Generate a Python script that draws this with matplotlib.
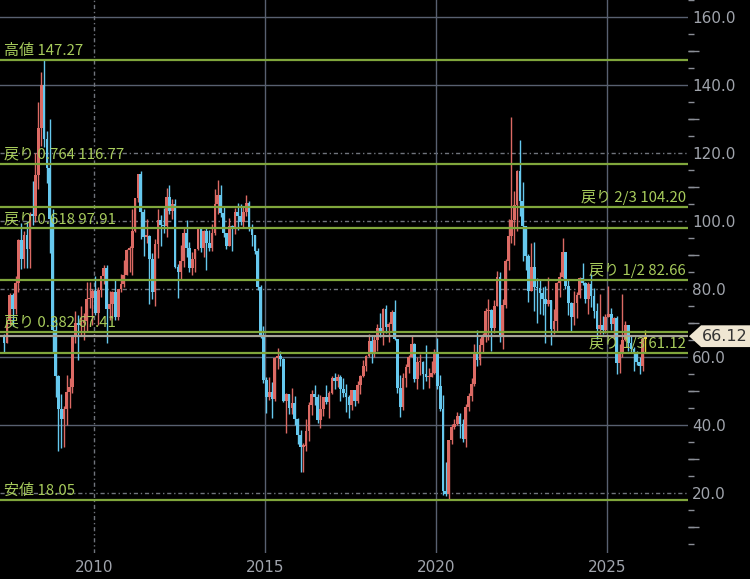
import numpy as np
import pandas as pd
import matplotlib
matplotlib.use('Agg')
import matplotlib.pyplot as plt
import matplotlib.dates as mdates
import matplotlib.ticker as mticker
from matplotlib.patches import Polygon
from matplotlib.transforms import blended_transform_factory

# monthly OHLC, 2007-05 .. 2026-02 (one row per year)
opens = [
    65.8, 64.0, 70.7, 78.2, 74.0, 81.7, 94.5, 88.7,
    96.0, 91.8, 101.8, 101.6, 113.5, 127.4, 140.0, 124.1, 115.5, 100.6, 67.8, 54.4,
    44.6, 41.7, 44.8, 49.7, 51.1, 66.3, 69.9, 69.5, 70.0, 70.6, 77.0, 77.3,
    79.4, 72.9, 79.7, 83.8, 86.2, 74.0, 75.6, 79.0, 71.9, 80.0, 81.4, 84.1,
    91.4, 92.2, 97.0, 106.7, 113.9, 102.7, 95.4, 95.7, 88.8, 79.2, 93.2, 100.4,
    98.8, 98.5, 107.1, 103.0, 104.9, 86.5, 85.0, 88.1, 96.5, 92.2, 86.2, 88.9,
    91.8, 97.5, 92.1, 97.2, 93.5, 92.0, 96.6, 105.0, 107.7, 102.3, 96.4, 92.7,
    98.4, 97.5, 102.6, 101.6, 99.7, 102.7, 105.4, 98.2, 96.0, 91.2, 80.5, 66.2,
    53.3, 48.2, 49.8, 47.6, 59.6, 60.3, 59.5, 47.1, 49.2, 45.1, 46.6, 41.7,
    37.0, 33.6, 33.8, 38.3, 45.9, 49.1, 48.3, 41.6, 44.7, 48.2, 46.9, 49.4,
    53.7, 52.8, 54.0, 50.6, 49.3, 48.3, 46.0, 50.2, 47.2, 51.7, 54.4, 57.4,
    60.4, 64.7, 61.6, 64.9, 68.6, 67.0, 74.2, 68.8, 69.8, 73.3, 65.3, 50.9,
    45.4, 53.8, 57.2, 60.1, 63.9, 53.5, 58.5, 58.6, 55.1, 54.1, 54.2, 55.2,
    61.1, 51.6, 44.8, 20.5, 19.8, 35.5, 39.3, 40.3, 42.6, 40.2, 35.8, 45.3,
    48.5, 52.2, 61.5, 59.2, 63.6, 66.3, 73.5, 73.95, 68.5, 75.0, 83.6, 66.2,
    75.2, 88.2, 95.7, 100.3, 104.7, 114.7, 105.8, 98.6, 89.6, 79.5, 86.5, 80.6,
    80.3, 78.9, 77.1, 75.7, 76.8, 68.1, 70.6, 81.8, 83.6, 90.8, 81.0, 76.0,
    71.7, 75.9, 78.3, 83.2, 81.9, 77.0, 81.5, 77.9, 73.6, 68.2, 69.3, 68.0,
    71.7, 72.5, 69.8, 71.5, 58.2, 60.8, 65.1, 69.3, 64.0, 62.4, 60.9, 58.6,
    57.4, 65.2,
]
highs = [
    66.8, 70.7, 78.8, 78.8, 83.9, 94.7, 99.3, 97.0,
    100.1, 102.6, 111.8, 119.9, 135.1, 143.7, 147.27, 126.4, 130.0, 103.6, 71.2, 54.7,
    49.1, 45.6, 54.7, 53.9, 66.6, 73.4, 72.4, 75.0, 72.9, 82.0, 82.0, 80.0,
    83.9, 80.5, 83.9, 87.2, 87.0, 79.4, 79.5, 82.9, 80.0, 84.4, 88.6, 91.9,
    92.6, 103.4, 106.9, 113.9, 114.8, 103.4, 100.6, 95.9, 90.5, 94.7, 103.4, 101.8,
    103.7, 109.8, 110.6, 106.4, 106.5, 87.3, 92.9, 98.3, 100.4, 93.9, 90.8, 91.9,
    98.2, 98.2, 97.4, 97.8, 97.3, 99.0, 109.3, 112.2, 110.7, 104.2, 96.4, 100.8,
    98.9, 103.9, 105.2, 104.99, 104.4, 107.7, 106.0, 99.2, 96.0, 92.1, 81.3, 69.0,
    54.0, 54.2, 52.5, 59.9, 62.6, 61.8, 59.7, 49.3, 49.2, 50.9, 48.4, 42.0,
    38.4, 34.8, 41.9, 46.8, 50.2, 51.7, 49.2, 48.8, 48.3, 51.9, 49.9, 54.5,
    55.2, 54.9, 54.6, 53.8, 52.0, 48.9, 50.4, 50.4, 52.9, 54.8, 59.0, 60.5,
    66.7, 66.2, 66.6, 69.6, 72.9, 74.5, 75.3, 70.4, 73.8, 76.9, 65.3, 54.6,
    55.4, 57.8, 60.7, 66.6, 64.0, 59.9, 60.9, 58.8, 63.4, 56.9, 58.7, 62.3,
    65.65, 54.7, 48.7, 29.1, 35.7, 40.4, 41.9, 43.8, 43.4, 41.9, 46.3, 49.4,
    53.9, 63.8, 67.98, 65.5, 67.0, 74.5, 76.98, 74.2, 76.7, 85.4, 84.97, 77.0,
    88.8, 100.5, 130.5, 108.7, 115.0, 123.7, 111.5, 98.6, 90.4, 93.6, 93.7, 83.3,
    82.7, 80.6, 81.0, 83.5, 76.9, 74.0, 82.0, 84.9, 95.0, 91.0, 83.0, 76.2,
    79.3, 79.2, 83.5, 87.7, 82.0, 82.0, 84.5, 80.2, 76.0, 78.5, 72.0, 72.5,
    80.8, 74.4, 71.7, 72.0, 63.9, 78.4, 70.5, 69.4, 66.4, 63.0, 61.8, 59.9,
    66.0, 68.0,
]
lows = [
    61.5, 64.0, 69.5, 69.0, 72.5, 79.0, 85.9, 86.2,
    86.1, 86.1, 98.7, 99.6, 109.4, 122.0, 121.9, 111.3, 90.5, 61.3, 48.3, 32.4,
    33.2, 33.6, 40.0, 45.0, 49.3, 64.0, 59.0, 66.1, 65.1, 67.6, 74.4, 69.5,
    72.4, 69.5, 77.6, 81.5, 64.2, 70.8, 71.5, 70.8, 70.8, 79.0, 80.6, 84.0,
    85.1, 84.1, 96.9, 105.5, 94.6, 89.6, 93.4, 75.7, 77.1, 74.95, 89.2, 92.5,
    96.4, 95.4, 102.0, 100.7, 86.2, 77.3, 82.9, 86.5, 89.4, 84.9, 84.1, 84.9,
    91.6, 90.9, 89.3, 85.6, 91.3, 91.1, 96.0, 102.2, 101.3, 95.4, 91.8, 92.6,
    91.2, 96.2, 97.4, 98.7, 98.3, 101.4, 97.2, 92.5, 90.4, 79.8, 65.7, 52.4,
    43.6, 47.4, 42.0, 47.0, 56.5, 57.3, 46.7, 37.75, 43.2, 43.2, 39.9, 34.5,
    26.2, 26.05, 32.4, 35.2, 43.0, 45.8, 40.6, 39.2, 42.5, 46.3, 42.2, 49.0,
    50.7, 51.2, 47.1, 48.2, 43.8, 42.05, 44.4, 45.6, 46.5, 49.1, 54.2, 55.8,
    59.9, 58.1, 59.95, 61.8, 65.8, 63.6, 67.0, 64.4, 67.6, 64.9, 49.4, 42.4,
    44.4, 51.2, 55.4, 59.9, 52.6, 50.6, 54.7, 50.5, 52.8, 50.99, 54.0, 55.0,
    50.6, 44.0, 19.3, 19.0, 18.05, 34.4, 38.7, 40.1, 36.1, 34.9, 33.6, 44.2,
    47.2, 51.5, 57.3, 57.6, 61.6, 64.4, 65.0, 61.7, 67.1, 74.9, 64.4, 62.4,
    74.3, 85.7, 93.5, 92.9, 97.2, 101.5, 88.3, 85.7, 76.3, 79.3, 73.6, 70.1,
    72.5, 72.3, 64.1, 74.9, 63.6, 66.8, 67.7, 77.6, 83.1, 80.0, 72.4, 67.7,
    69.3, 71.4, 77.3, 81.2, 76.0, 72.5, 74.6, 71.5, 65.3, 66.8, 66.8, 67.0,
    71.7, 68.0, 65.2, 55.1, 55.3, 60.0, 64.8, 61.9, 61.5, 55.96, 57.6, 54.9,
    55.8, 61.3,
]
closes = [
    64.0, 70.7, 78.2, 74.0, 81.7, 94.5, 88.7, 96.0,
    91.8, 101.8, 101.6, 113.5, 127.4, 140.0, 124.1, 115.5, 100.6, 67.8, 54.4, 44.6,
    41.7, 44.8, 49.7, 51.1, 66.3, 69.9, 69.5, 70.0, 70.6, 77.0, 77.3, 79.4,
    72.9, 79.7, 83.8, 86.2, 74.0, 75.6, 79.0, 71.9, 80.0, 81.4, 84.1, 91.4,
    92.2, 97.0, 106.7, 113.9, 102.7, 95.4, 95.7, 88.8, 79.2, 93.2, 100.4, 98.8,
    98.5, 107.1, 103.0, 104.9, 86.5, 85.0, 88.1, 96.5, 92.2, 86.2, 88.9, 91.8,
    97.5, 92.1, 97.2, 93.5, 92.0, 96.6, 105.0, 107.7, 102.3, 96.4, 92.7, 98.4,
    97.5, 102.6, 101.6, 99.7, 102.7, 105.4, 98.2, 96.0, 91.2, 80.5, 66.2, 53.3,
    48.2, 49.8, 47.6, 59.6, 60.3, 59.5, 47.1, 49.2, 45.1, 46.6, 41.7, 37.0,
    33.6, 33.8, 38.3, 45.9, 49.1, 48.3, 41.6, 44.7, 48.2, 46.9, 49.4, 53.7,
    52.8, 54.0, 50.6, 49.3, 48.3, 46.0, 50.2, 47.2, 51.7, 54.4, 57.4, 60.4,
    64.7, 61.6, 64.9, 68.6, 67.0, 74.2, 68.8, 69.8, 73.3, 65.3, 50.9, 45.4,
    53.8, 57.2, 60.1, 63.9, 53.5, 58.5, 58.6, 55.1, 54.1, 54.2, 55.2, 61.1,
    51.6, 44.8, 20.5, 19.8, 35.5, 39.3, 40.3, 42.6, 40.2, 35.8, 45.3, 48.5,
    52.2, 61.5, 59.2, 63.6, 66.3, 73.5, 73.95, 68.5, 75.0, 83.6, 66.2, 75.2,
    88.2, 95.7, 100.3, 104.7, 114.7, 105.8, 98.6, 89.6, 79.5, 86.5, 80.6, 80.3,
    78.9, 77.1, 75.7, 76.8, 68.1, 70.6, 81.8, 83.6, 90.8, 81.0, 76.0, 71.7,
    75.9, 78.3, 83.2, 81.9, 77.0, 81.5, 77.9, 73.6, 68.2, 69.3, 68.0, 71.7,
    72.5, 69.8, 71.5, 58.2, 60.8, 65.1, 69.3, 64.0, 62.4, 60.9, 58.6, 57.4,
    65.2, 66.12,
]

# retracement levels
fib_levels = [147.27, 116.77, 104.20, 97.91, 82.66, 67.41, 61.12, 18.05]
fib_labels = ['高値 147.27', '戻り 0.764 116.77', '戻り 2/3 104.20', '戻り 0.618 97.91',
              '戻り 1/2 82.66', '戻り 0.382 67.41', '戻り 1/3 61.12', '安値 18.05']
fib_side = ['left', 'left', 'right', 'left', 'right', 'left', 'right', 'left']
last_price = 66.12

RED = '#dc6a64'
BLUE = '#66c8ee'
YELLOW = '#e8d23c'
GREEN = '#80a63c'
LABEL_GREEN = '#a8cc5c'
GRID = '#586070'
TICK_TXT = '#a0a4ac'
JP = ['Noto Sans CJK JP', 'DejaVu Sans']

o = np.array(opens)
h = np.array(highs)
l = np.array(lows)
c = np.array(closes)
dates = pd.date_range('2007-05-01', periods=len(c), freq='MS') + pd.Timedelta(days=14)
x = mdates.date2num(dates)

colors = np.where(c >= o, RED, BLUE).astype(object)
colors[-1] = YELLOW

fig = plt.figure(figsize=(7.5, 5.79), dpi=100, facecolor='black')
ax = fig.add_axes([0, 26 / 579, 688 / 750, 553 / 579])
ax.set_facecolor('black')
for s in ax.spines.values():
    s.set_visible(False)

ax.set_xlim(mdates.date2num(pd.Timestamp('2007-04-02')), mdates.date2num(pd.Timestamp('2027-05-16')))
ax.set_ylim(2.35, 165)

# grid
dotted = (0, (3, 2, 1, 2))
for v in range(20, 161, 20):
    ls = '-' if v in (40, 60, 140, 160) else dotted
    ax.axhline(v, color=GRID if ls == '-' else '#70747c', lw=1, ls=ls, zorder=0)
year_ticks = [pd.Timestamp(f'{y}-01-01') for y in (2010, 2015, 2020, 2025)]
for i, t in enumerate(year_ticks):
    ax.axvline(mdates.date2num(t), color=GRID if i else '#70747c', lw=1,
               ls=dotted if i == 0 else '-', zorder=0)

# candles
ax.vlines(x, l, h, colors=list(colors), lw=1.0, zorder=2)
body = np.maximum(np.abs(c - o), 0.4)
ax.bar(x, body, bottom=np.minimum(o, c), width=29, color=list(colors), lw=0, zorder=3)

# last price line
ax.axhline(last_price, color='#a8a498', lw=1.6, zorder=4)

# retracement lines and labels
for lev, txt, side in zip(fib_levels, fib_labels, fib_side):
    ax.axhline(lev, color=GREEN, lw=1.6, zorder=5)
    xf = 4 / 688 if side == 'left' else 686 / 688
    ax.annotate(txt, xy=(xf, lev), xycoords=('axes fraction', 'data'),
                xytext=(0, 1.5), textcoords='offset points', ha=side, va='bottom',
                color=LABEL_GREEN, fontsize=10.8, family=JP, zorder=6)

# y axis on right
ax.yaxis.tick_right()
ax.yaxis.set_major_locator(mticker.MultipleLocator(20))
ax.yaxis.set_major_formatter(mticker.FuncFormatter(lambda v, p: f'{v:.1f}'))
ax.yaxis.set_minor_locator(mticker.MultipleLocator(5))
ax.tick_params(axis='y', which='major', length=0, pad=3, labelsize=11, labelcolor=TICK_TXT)
ax.tick_params(axis='y', which='minor', length=4.5, width=1, color='#8a8e96')
sec = ax.secondary_yaxis('right')
sec.set_yticks(np.arange(10, 165, 20))
sec.set_yticklabels([])
sec.tick_params(length=8, width=1, color='#8a8e96')
for s in sec.spines.values():
    s.set_visible(False)

ax.set_xticks(mdates.date2num(year_ticks))
ax.set_xticklabels([t.year for t in year_ticks])
ax.tick_params(axis='x', length=0, pad=5, labelsize=11, labelcolor=TICK_TXT)

# current price tag
tr = blended_transform_factory(ax.transAxes, ax.transData)
tag = Polygon([(1.0015, last_price), (1.019, last_price + 3.2), (1.1, last_price + 3.2),
               (1.1, last_price - 3.2), (1.019, last_price - 3.2)],
              closed=True, transform=tr, clip_on=False, facecolor='#efe6d2',
              edgecolor='none', zorder=10)
ax.add_patch(tag)
ax.text(1.053, last_price, f'{last_price:.2f}', transform=tr, ha='center', va='center',
        fontsize=11.5, color='#333333', clip_on=False, zorder=11)

fig.savefig('out.png', dpi=100, facecolor='black')
